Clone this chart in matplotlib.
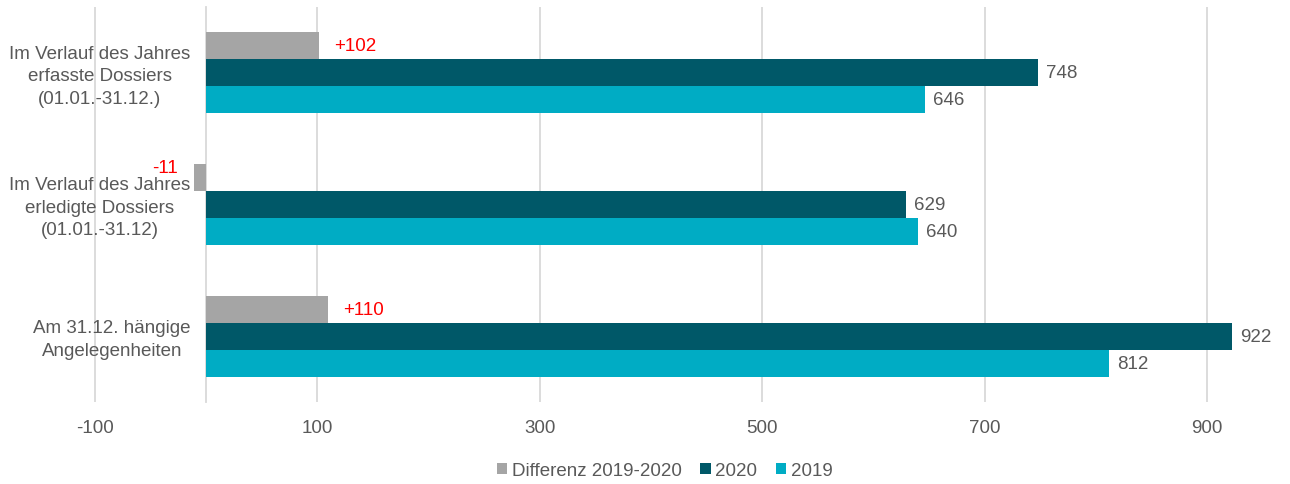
import numpy as np
import matplotlib.pyplot as plt

plt.rcParams['font.family'] = ['Liberation Sans', 'DejaVu Sans']
plt.rcParams['axes.unicode_minus'] = False

categories = [
    "Im Verlauf des Jahres\nerfasste Dossiers\n(01.01.-31.12.)",
    "Im Verlauf des Jahres\nerledigte Dossiers\n(01.01.-31.12)",
    "Am 31.12. hängige\nAngelegenheiten",
]
diff_vals = [102, -11, 110]
diff_labels = ["+102", "-11", "+110"]
vals_2020 = [748, 629, 922]
vals_2019 = [646, 640, 812]

c_diff = "#A5A5A5"
c_2020 = "#005868"
c_2019 = "#00ACC4"
c_text = "#595959"
c_grid = "#D9D9D9"

fig = plt.figure(figsize=(12.9, 4.85), dpi=100)
ax = fig.add_axes([0.0647, 0.169, 0.9012, 0.8144])

y = np.arange(len(categories))
h = 0.205

ax.barh(y - h, diff_vals, height=h, color=c_diff, label="Differenz 2019-2020", zorder=3)
ax.barh(y, vals_2020, height=h, color=c_2020, label="2020", zorder=3)
ax.barh(y + h, vals_2019, height=h, color=c_2019, label="2019", zorder=3)

fs = 13.5
for i in range(len(categories)):
    d = diff_vals[i]
    if d >= 0:
        ax.annotate(diff_labels[i], (d, y[i] - h), xytext=(11, 0), textcoords="offset points",
                    ha="left", va="center", color="red", fontsize=fs)
    else:
        ax.annotate(diff_labels[i], (d, y[i] - h), xytext=(-11, 7), textcoords="offset points",
                    ha="right", va="center", color="red", fontsize=fs)
    ax.annotate(str(vals_2020[i]), (vals_2020[i], y[i]), xytext=(6, 0), textcoords="offset points",
                ha="left", va="center", color=c_text, fontsize=fs)
    ax.annotate(str(vals_2019[i]), (vals_2019[i], y[i] + h), xytext=(6, 0), textcoords="offset points",
                ha="left", va="center", color=c_text, fontsize=fs)
    # category label, drawn at the zero axis
    ax.annotate(categories[i], (0, y[i]), xytext=(-11, -2), textcoords="offset points",
                ha="right", va="center", multialignment="center", linespacing=1.42,
                color=c_text, fontsize=fs)

ax.set_xlim(-110, 935)
ax.set_ylim(2.5, -0.5)
ax.set_xticks([-100, 100, 300, 500, 700, 900])
ax.xaxis.grid(True, color=c_grid, linewidth=1.3, zorder=0)
ax.set_yticks([])

for s in ["top", "right", "bottom"]:
    ax.spines[s].set_visible(False)
ax.spines["left"].set_position(("data", 0))
ax.spines["left"].set_color(c_grid)
ax.spines["left"].set_linewidth(1.3)
ax.spines["left"].set_zorder(1)

ax.tick_params(axis="x", length=0, pad=12, labelsize=fs, labelcolor=c_text)

ax.legend(loc="upper center", bbox_to_anchor=(0.5, -0.11), ncol=3, frameon=False,
          fontsize=fs, labelcolor=c_text, handlelength=0.55, handleheight=0.55,
          handletextpad=0.25, columnspacing=1.0)

fig.savefig("out.png", dpi=100)
